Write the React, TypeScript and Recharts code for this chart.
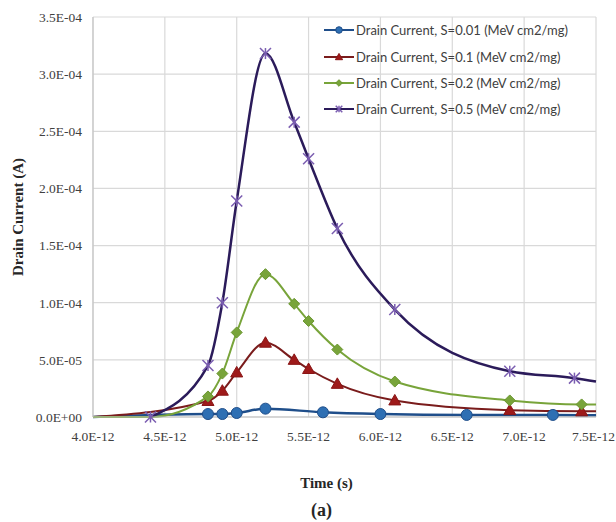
import { LineChart, Line, CartesianGrid, XAxis, YAxis } from 'recharts';

// time in units of 1E-12 s, current in A
const blueT = [4.0, 4.8, 4.9, 5.0, 5.2, 5.6, 6.0, 6.6, 7.2, 7.5];
const blueI = [0, 2.6e-6, 2.6e-6, 3.5e-6, 7.3e-6, 4.1e-6, 2.6e-6, 1.8e-6, 1.8e-6, 1.5e-6];
const blueDots = [false, true, true, true, true, true, true, true, true, false];

const redT = [4.0, 4.8, 4.9, 5.0, 5.2, 5.4, 5.5, 5.7, 6.1, 6.9, 7.4, 7.5];
const redI = [0, 1.4e-5, 2.3e-5, 3.9e-5, 6.5e-5, 5.0e-5, 4.2e-5, 2.9e-5, 1.45e-5, 6.0e-6, 5.0e-6, 5.0e-6];
const redDots = [false, true, true, true, true, true, true, true, true, true, true, false];

const greenT = [4.0, 4.4, 4.8, 4.9, 5.0, 5.2, 5.4, 5.5, 5.7, 6.1, 6.9, 7.4, 7.5];
const greenI = [0, 0, 1.8e-5, 3.8e-5, 7.4e-5, 1.25e-4, 9.9e-5, 8.4e-5, 5.9e-5, 3.1e-5, 1.45e-5, 1.1e-5, 1.1e-5];
const greenDots = [false, false, true, true, true, true, true, true, true, true, true, true, false];

const purpleT = [4.4, 4.8, 4.9, 5.0, 5.2, 5.4, 5.5, 5.7, 6.1, 6.9, 7.35, 7.5];
const purpleI = [0, 4.5e-5, 1.0e-4, 1.89e-4, 3.18e-4, 2.58e-4, 2.26e-4, 1.65e-4, 9.4e-5, 4.0e-5, 3.4e-5, 3.1e-5];
const purpleDots = [true, true, true, true, true, true, true, true, true, true, true, false];

const seriesNames = [
  'Drain Current, S=0.01 (MeV cm2/mg)',
  'Drain Current, S=0.1 (MeV cm2/mg)',
  'Drain Current, S=0.2 (MeV cm2/mg)',
  'Drain Current, S=0.5 (MeV cm2/mg)',
];

const xTicks = [4.0, 4.5, 5.0, 5.5, 6.0, 6.5, 7.0, 7.5];
const yTicks = [0, 5e-5, 1e-4, 1.5e-4, 2e-4, 2.5e-4, 3e-4, 3.5e-4];

const rows = (t: number[], v: number[], d: boolean[]) => t.map((x, k) => ({ t: x, i: v[k], m: d[k] }));

const fmtY = (v: number) => {
  if (v === 0) return '0.0E+00';
  const [m, e] = v.toExponential(1).split('e');
  const n = parseInt(e, 10);
  return `${m}E${n < 0 ? '-' : '+'}${String(Math.abs(n)).padStart(2, '0')}`;
};
const fmtX = (v: number) => `${v.toFixed(1)}E-12`;

const Marker = ({ kind, x, y, s = 1 }: any) => {
  if (kind === 'circle')
    return <circle cx={x} cy={y} r={5.5 * s} fill="#2E6FB3" stroke="#1F4E8A" strokeWidth={1} />;
  if (kind === 'triangle') {
    const r = 6 * s;
    return <polygon points={`${x},${y - r} ${x + r},${y + r * 0.75} ${x - r},${y + r * 0.75}`} fill="#9E1A1A" stroke="#8A1515" strokeWidth={1} />;
  }
  if (kind === 'diamond') {
    const r = 5.5 * s;
    return <polygon points={`${x},${y - r} ${x + r},${y} ${x},${y + r} ${x - r},${y}`} fill="#78A43A" stroke="#6A9630" strokeWidth={1} />;
  }
  const r = 5.5 * s;
  return (
    <g stroke="#7A5DB0" strokeWidth={1.5}>
      <line x1={x - r} y1={y - r} x2={x + r} y2={y + r} />
      <line x1={x - r} y1={y + r} x2={x + r} y2={y - r} />
      <line x1={x} y1={y - r} x2={x} y2={y + r} />
    </g>
  );
};

const dotFor = (kind: string) => (p: any) => {
  const key = `${kind}-${p.index}`;
  if (!p.payload?.m) return <g key={key} />;
  return <g key={key}><Marker kind={kind} x={p.cx} y={p.cy} /></g>;
};

const legendItems = [
  { name: seriesNames[0], color: '#1F4E8A', kind: 'circle' },
  { name: seriesNames[1], color: '#7A1C1C', kind: 'triangle' },
  { name: seriesNames[2], color: '#78A43A', kind: 'diamond' },
  { name: seriesNames[3], color: '#2B1B5A', kind: 'star' },
];

const LegendBox = () => (
  <div style={{ position: 'absolute', left: 324, top: 17 }}>
    {legendItems.map((it) => (
      <div key={it.name} style={{ display: 'flex', alignItems: 'center', height: 26.4 }}>
        <svg width={32} height={14}>
          <line x1={0} y1={7} x2={30} y2={7} stroke={it.color} strokeWidth={2} />
          <Marker kind={it.kind} x={15} y={7} s={0.6} />
        </svg>
        <span style={{ fontFamily: 'Lato', fontSize: 13, color: '#404040', whiteSpace: 'nowrap' }}>{it.name}</span>
      </div>
    ))}
  </div>
);

const YTitle = ({ viewBox }: any) => {
  const cy = viewBox.y + viewBox.height / 2;
  return (
    <text x={18} y={cy} transform={`rotate(-90, 18, ${cy})`} textAnchor="middle" dominantBaseline="central"
      fontFamily="Liberation Serif" fontWeight="bold" fontSize={15} fill="#262626">
      Drain Current (A)
    </text>
  );
};

const XTitle = ({ viewBox }: any) => {
  const cx = viewBox.x + viewBox.width / 2;
  return (
    <g fontFamily="Liberation Serif" fontWeight="bold" fill="#262626" textAnchor="middle">
      <text x={cx - 18} y={483} fontSize={15} dominantBaseline="central">Time (s)</text>
      <text x={cx - 23} y={510} fontSize={18} dominantBaseline="central">(a)</text>
    </g>
  );
};

const XTick = ({ x, y, payload }: any) => {
  const last = payload.value === xTicks[xTicks.length - 1];
  return (
    <text x={last ? x + 19 : x} y={y} dy="0.71em" textAnchor={last ? 'end' : 'middle'}
      fontFamily="Liberation Serif" fontSize={13.5} fill="#404040">
      {fmtX(payload.value)}
    </text>
  );
};

const tickStyle = { fontFamily: 'Liberation Serif', fontSize: 13.5, fill: '#404040' };

export default function App() {
  return (
    <div style={{ position: 'absolute', left: 0, top: 0, width: 616, height: 522, background: '#fff' }}>
      <LineChart width={616} height={522} margin={{ top: 17, right: 20, bottom: 0, left: 0 }}>
        <CartesianGrid stroke="#d9d9d9" strokeWidth={1.2} />
        <XAxis dataKey="t" type="number" domain={[4, 7.5]} ticks={xTicks} interval={0}
          tick={<XTick />} tickLine={false} tickMargin={8} height={105} stroke="#bfbfbf"
          allowDuplicatedCategory={false} label={<XTitle />} />
        <YAxis type="number" domain={[0, 3.5e-4]} ticks={yTicks} tickFormatter={fmtY} interval={0}
          tick={tickStyle} tickLine={false} tickMargin={5} width={93} stroke="#bfbfbf" label={<YTitle />} />
        <Line data={rows(blueT, blueI, blueDots)} dataKey="i" name={seriesNames[0]} type="monotone"
          stroke="#1F4E8A" strokeWidth={2.5} dot={dotFor('circle')} isAnimationActive={false} />
        <Line data={rows(redT, redI, redDots)} dataKey="i" name={seriesNames[1]} type="monotone"
          stroke="#7A1C1C" strokeWidth={2} dot={dotFor('triangle')} isAnimationActive={false} />
        <Line data={rows(greenT, greenI, greenDots)} dataKey="i" name={seriesNames[2]} type="monotone"
          stroke="#78A43A" strokeWidth={2} dot={dotFor('diamond')} isAnimationActive={false} />
        <Line data={rows(purpleT, purpleI, purpleDots)} dataKey="i" name={seriesNames[3]} type="monotone"
          stroke="#2B1B5A" strokeWidth={2.5} dot={dotFor('star')} isAnimationActive={false} />
      </LineChart>
      <LegendBox />
    </div>
  );
}
